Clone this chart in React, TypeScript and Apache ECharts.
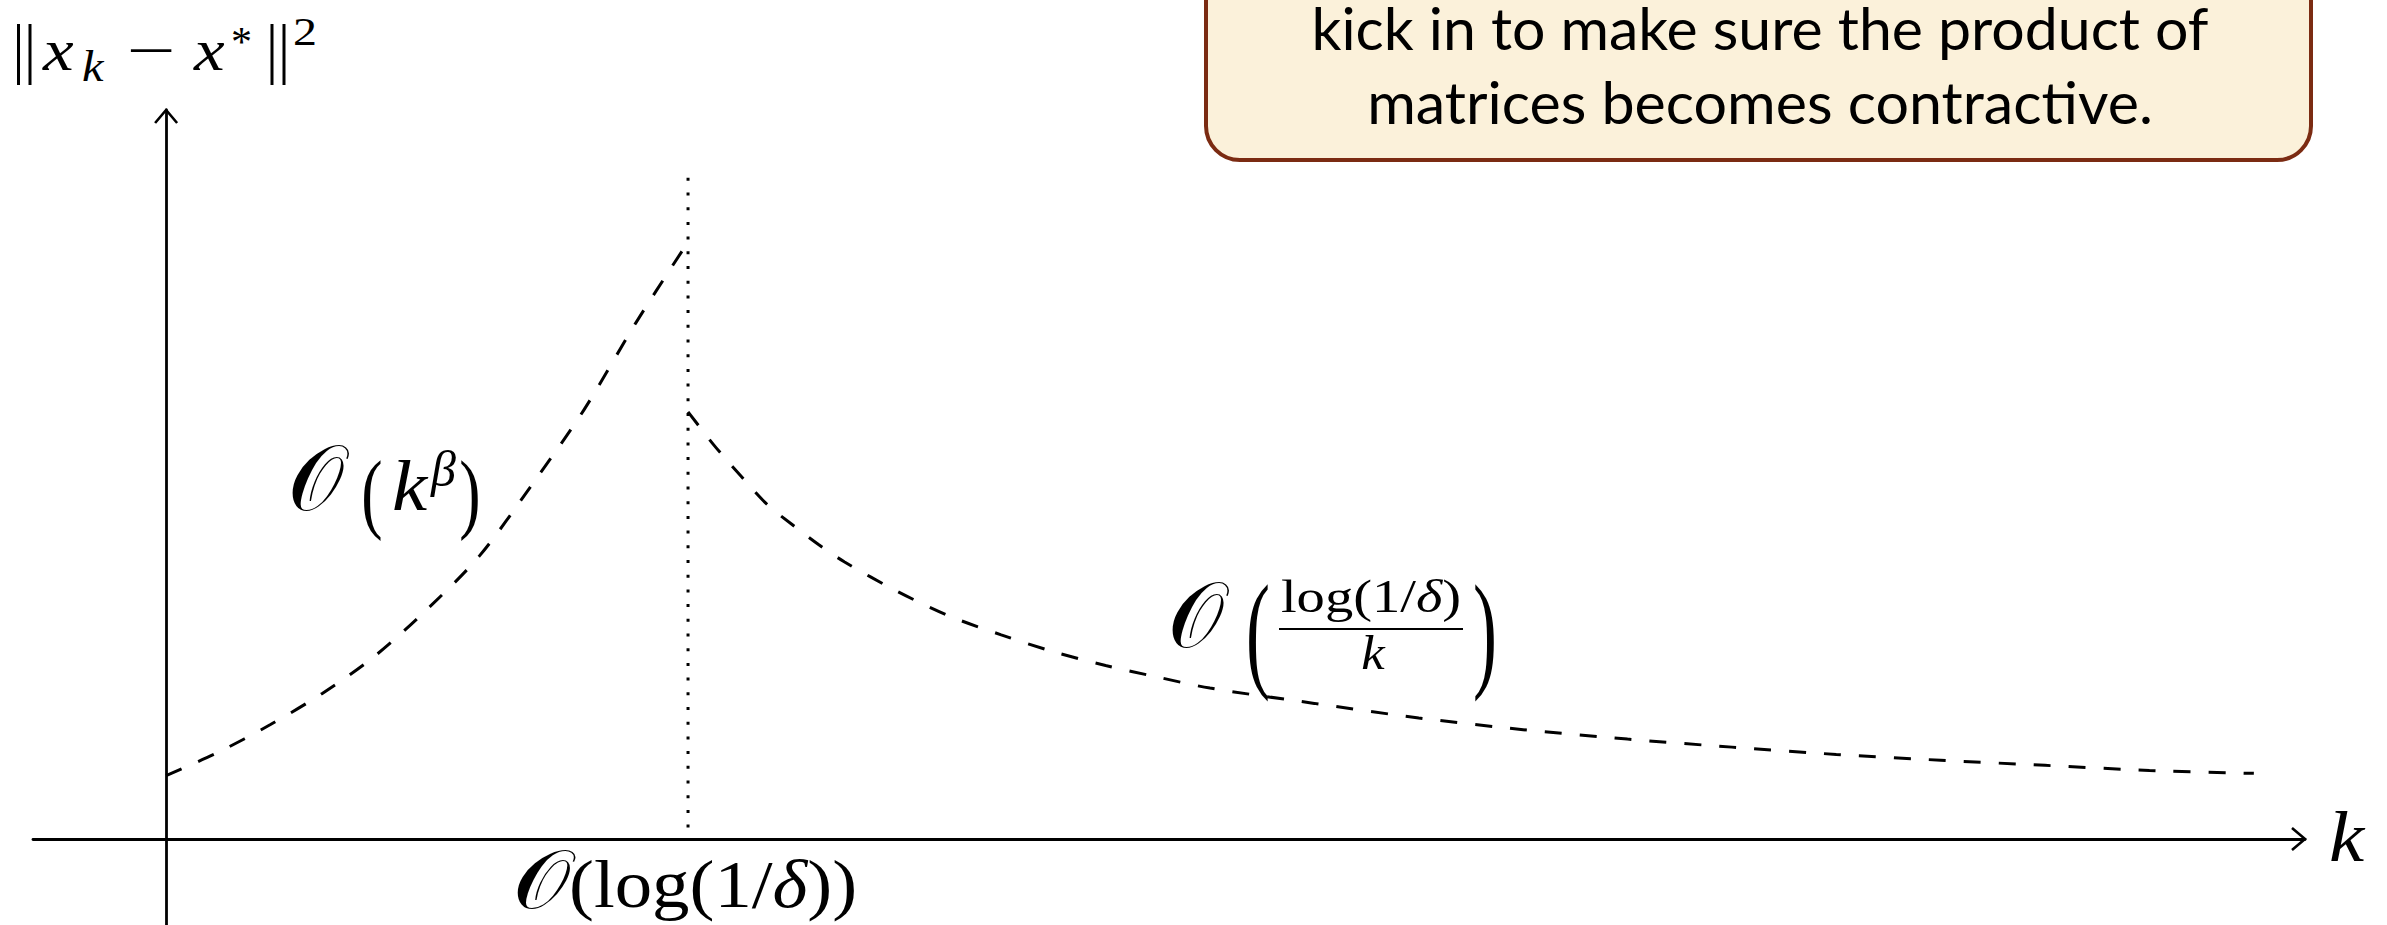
import React, { useEffect, useRef } from "react";
import * as echarts from "echarts";

// Error curve before the switching point (growth phase)
const growthK = [0, 1, 2, 3, 4, 5, 6, 7, 8, 9, 9.9];
const growthErr = [0.87, 1.19, 1.57, 2.0, 2.51, 3.15, 3.88, 4.85, 5.88, 7.08, 8.08];

// Error curve after the switching point (decay phase)
const decayK = [10, 10.5, 11, 11.5, 12, 12.5, 13, 14, 15, 16, 17, 18, 19, 20, 22, 24, 26, 28, 30, 32, 34, 36, 38, 40];
const decayErr = [5.86, 5.4, 4.99, 4.6, 4.31, 4.04, 3.8, 3.4, 3.06, 2.8, 2.57, 2.38, 2.22, 2.07, 1.86, 1.66, 1.5, 1.37, 1.26, 1.16, 1.08, 1.01, 0.94, 0.9];

// Switching iteration marker
const switchK = 10;
const switchTop = 9.07;

// Axis extents
const kRange = [-2.55, 40.98];
const errRange = [-1.18, 10];

const calloutLines = ["kick in to make sure the product of", "matrices becomes contractive."];

const SERIF = '"Liberation Serif", "DejaVu Serif", serif';
const SANS = 'Lato, "Open Sans", sans-serif';
const SERIF_MID = 0.3375; // central baseline offset (em) above alphabetic baseline
const SANS_MID = 0.387;

type TOpts = { italic?: boolean; align?: string; scaleX?: number; rich?: any; family?: string; mid?: number };

function txt(text: string, x: number, baseline: number, fs: number, o: TOpts = {}) {
  const mid = o.mid ?? SERIF_MID;
  return {
    type: "text",
    x,
    y: baseline - mid * fs,
    scaleX: o.scaleX ?? 1,
    silent: true,
    style: {
      text,
      fontFamily: o.family ?? SERIF,
      fontSize: fs,
      fontStyle: o.italic ? "italic" : "normal",
      fill: "#000",
      align: o.align ?? "left",
      verticalAlign: "middle",
      rich: o.rich,
    },
  };
}

// Calligraphic O centred at cx, spanning top..bottom with the given width
function calO(cx: number, top: number, bottom: number, width: number) {
  const fs = (bottom - top) / 0.53;
  const sx = width / (0.55 * fs);
  return {
    type: "text",
    x: cx + 2,
    y: (top + bottom) / 2 - 0.1 * fs,
    scaleX: sx,
    silent: true,
    style: {
      text: "\u{1D4AA}",
      fontFamily: SERIF,
      fontSize: fs,
      fill: "#000",
      align: "center",
      verticalAlign: "middle",
    },
  };
}

function paren(ch: string, cx: number, cy: number, fs: number, sy: number) {
  return {
    type: "text",
    x: cx,
    y: cy,
    scaleY: sy,
    silent: true,
    style: {
      text: ch,
      fontFamily: SERIF,
      fontSize: fs,
      fill: "#000",
      align: "center",
      verticalAlign: "middle",
    },
  };
}

function bar(x1: number, y1: number, x2: number, y2: number, w: number) {
  return {
    type: "line",
    silent: true,
    shape: { x1, y1, x2, y2 },
    style: { stroke: "#000", lineWidth: w },
  };
}

function mathRich(fs: number) {
  return {
    r: { fontFamily: SERIF, fontSize: fs, fontStyle: "normal", fill: "#000" },
    i: { fontFamily: SERIF, fontSize: fs, fontStyle: "italic", fill: "#000" },
  };
}

function measure(text: string, font: string) {
  const c = document.createElement("canvas").getContext("2d");
  if (!c) return 0;
  c.font = font;
  return c.measureText(text).width;
}

export default function App() {
  const ref = useRef<HTMLDivElement>(null);

  useEffect(() => {
    document.body.style.margin = "0";
    const el = ref.current;
    if (!el) return;
    const chart = echarts.init(el, undefined, { renderer: "svg" });

    const axisLine = { show: true, onZero: true, symbol: "none", lineStyle: { color: "#000", width: 2.8 } };
    const dashed = { color: "#000", width: 3, type: [17, 18] };

    chart.setOption({
      animation: false,
      backgroundColor: "#fff",
      grid: { left: 33, right: 82, top: 110, bottom: 0, containLabel: false },
      xAxis: {
        type: "value",
        min: kRange[0],
        max: kRange[1],
        axisLine,
        axisTick: { show: false },
        axisLabel: { show: false },
        splitLine: { show: false },
      },
      yAxis: {
        type: "value",
        min: errRange[0],
        max: errRange[1],
        axisLine,
        axisTick: { show: false },
        axisLabel: { show: false },
        splitLine: { show: false },
      },
      series: [
        {
          type: "line",
          data: growthK.map((k, i) => [k, growthErr[i]]),
          smooth: 0.3,
          showSymbol: false,
          lineStyle: dashed,
        },
        {
          type: "line",
          data: decayK.map((k, i) => [k, decayErr[i]]),
          smooth: 0.3,
          showSymbol: false,
          lineStyle: dashed,
        },
        {
          type: "line",
          data: [
            [switchK, switchTop],
            [switchK, 0],
          ],
          showSymbol: false,
          lineStyle: { color: "#000", width: 3, type: [3, 11.7] },
        },
      ],
    });

    const xTip = chart.convertToPixel({ gridIndex: 0 }, [kRange[1], 0]) as number[];
    const yTip = chart.convertToPixel({ gridIndex: 0 }, [0, errRange[1]]) as number[];

    const calloutFs = 58;
    const calloutFont = `${calloutFs}px Lato`;
    const w1 = measure(calloutLines[0], calloutFont) || 897;
    const w2 = measure(calloutLines[1], calloutFont) || 786;

    const graphics: any[] = [
      // axis arrow heads
      {
        type: "polyline",
        silent: true,
        shape: { points: [[xTip[0] - 13, xTip[1] - 11], [xTip[0], xTip[1]], [xTip[0] - 13, xTip[1] + 11]] },
        style: { stroke: "#000", lineWidth: 2.6, fill: "none" },
      },
      {
        type: "polyline",
        silent: true,
        shape: { points: [[yTip[0] - 11, yTip[1] + 13], [yTip[0], yTip[1]], [yTip[0] + 11, yTip[1] + 13]] },
        style: { stroke: "#000", lineWidth: 2.6, fill: "none" },
      },
      // callout box
      {
        type: "rect",
        silent: true,
        shape: { x: 1206, y: -80, width: 1105, height: 240, r: 34 },
        style: { fill: "#FBF1DA", stroke: "#7B2B12", lineWidth: 4 },
      },
      txt(calloutLines[0], 1760, 50, calloutFs, { align: "center", family: SANS, mid: SANS_MID, scaleX: 897 / w1 }),
      txt(calloutLines[1], 1760, 124, calloutFs, { align: "center", family: SANS, mid: SANS_MID, scaleX: 786 / w2 }),

      // y-axis title ‖x_k − x*‖²
      bar(18.5, 24, 18.5, 85, 3),
      bar(30, 24, 30, 85, 3),
      txt("x", 43, 70, 60, { italic: true, scaleX: 1.15 }),
      txt("k", 82, 81, 44, { italic: true, scaleX: 1.1 }),
      txt("\u2212", 151, 70, 58, { align: "center", scaleX: 1.5 }),
      txt("x", 194, 70, 60, { italic: true, scaleX: 1.15 }),
      txt("*", 231, 56, 42),
      bar(272, 24, 272, 85, 3),
      bar(284, 24, 284, 85, 3),
      txt("2", 293, 45, 40, { scaleX: 1.2 }),

      // x-axis title k
      txt("k", 2329, 861, 72, { italic: true, scaleX: 1.1 }),

      // growth-phase label 𝒪(k^β)
      calO(314, 464, 513, 49),
      paren("(", 372, 492, 64, 1.4),
      txt("k", 392, 510, 72, { italic: true, scaleX: 1.1 }),
      txt("\u03B2", 431, 486, 50, { italic: true }),
      paren(")", 470, 492, 64, 1.4),

      // decay-phase label 𝒪(log(1/δ)/k)
      calO(1194, 601, 650, 49),
      paren("(", 1258, 631, 72, 1.8),
      txt("{r|log(1/}{i|\u03B4}{r|)}", 1371, 612, 46, { align: "center", rich: mathRich(46), scaleX: 1.23 }),
      bar(1279, 629, 1463, 629, 2.2),
      txt("k", 1373, 669, 48, { italic: true, align: "center", scaleX: 1.1 }),
      paren(")", 1485, 631, 72, 1.8),

      // switching iteration label 𝒪(log(1/δ))
      calO(540, 866, 910, 50),
      txt("{r|(log(1/}{i|\u03B4}{r|))}", 569, 907, 68, { rich: mathRich(68), scaleX: 1.1 }),
    ];

    chart.setOption({ graphic: { elements: graphics } });

    return () => {
      chart.dispose();
    };
  }, []);

  return <div ref={ref} style={{ position: "fixed", left: 0, top: 0, width: 2387, height: 925 }} />;
}
